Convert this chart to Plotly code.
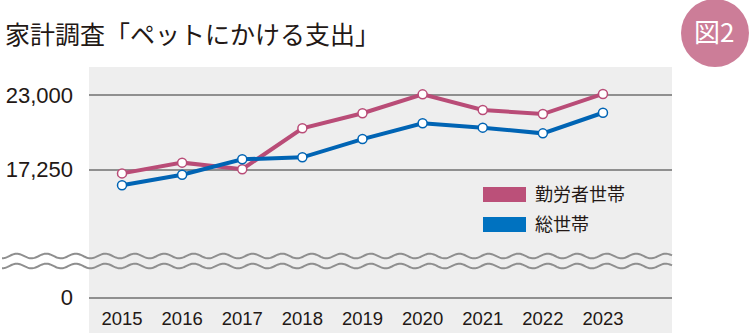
import numpy as np
import plotly.graph_objects as go

# ---- data ----
years = [2015, 2016, 2017, 2018, 2019, 2020, 2021, 2022, 2023]
worker_households = [16950, 17780, 17270, 20430, 21590, 23050, 21840, 21530, 23080]
all_households = [16030, 16850, 18040, 18190, 19600, 20820, 20480, 20040, 21630]
series_names = ["勤労者世帯", "総世帯"]
ytick_vals = [7410, 17250, 23000]
ytick_text = ["0", "17,250", "23,000"]
title_text = "家計調査「ペットにかける支出」"
badge_text = "図2"

# ---- layout geometry ----
W, H = 750, 335
L, R, T, B = 89, 78, 67, 38
PW, PH = W - L - R, H - T - B

PINK = "#b94c77"
BLUE = "#0064b4"
PINK_SW = "#bb5079"
BLUE_SW = "#0072c0"
GRID = "#8f8f8f"
BG = "#eeeeee"
TXT = "#231815"


def px(x):
    return (x - L) / PW


def py(y):
    return (H - B - y) / PH


fig = go.Figure()
for vals, col, name in [(worker_households, PINK, series_names[0]),
                        (all_households, BLUE, series_names[1])]:
    fig.add_trace(go.Scatter(
        x=years, y=vals, mode="lines+markers", name=name,
        line=dict(color=col, width=4),
        marker=dict(size=9, color="white", line=dict(color=col, width=1.5)),
        showlegend=False, cliponaxis=False))

shapes = []
# gray background continuation below the axis
shapes.append(dict(type="rect", xref="paper", yref="paper", x0=0, x1=1,
                   y0=py(333), y1=0, fillcolor=BG, line=dict(width=0), layer="below"))

# wavy break lines
xs = np.linspace(2, 672, 600)
for yc in (256, 266):
    ys = yc + 2.3 * np.sin(2 * np.pi * (xs - 2) / 29.5 + np.pi / 2)
    path = "M " + " L ".join(f"{px(a):.5f},{py(b):.5f}" for a, b in zip(xs, ys))
    shapes.append(dict(type="path", xref="paper", yref="paper", path=path,
                       line=dict(color=GRID, width=2)))

# legend swatches
shapes.append(dict(type="rect", xref="paper", yref="paper", x0=px(483), x1=px(526),
                   y0=py(202), y1=py(187), fillcolor=PINK_SW, line=dict(width=0)))
shapes.append(dict(type="rect", xref="paper", yref="paper", x0=px(483), x1=px(526),
                   y0=py(232), y1=py(217), fillcolor=BLUE_SW, line=dict(width=0)))

# badge circle
shapes.append(dict(type="circle", xref="paper", yref="paper", x0=px(681), x1=px(749),
                   y0=py(67), y1=py(-1), fillcolor="#cc7d98", line=dict(width=0)))

annotations = [
    dict(text=title_text, xref="paper", yref="paper", x=px(3), y=py(33),
         xanchor="left", yanchor="middle", showarrow=False,
         font=dict(family="Noto Sans CJK JP", size=25, color=TXT)),
    dict(text=badge_text, xref="paper", yref="paper", x=px(714), y=py(30),
         xanchor="center", yanchor="middle", showarrow=False,
         font=dict(family="Noto Sans CJK JP", size=26, color="white")),
    dict(text=series_names[0], xref="paper", yref="paper", x=px(533), y=py(193),
         xanchor="left", yanchor="middle", showarrow=False,
         font=dict(family="Noto Sans CJK JP", size=18, color=TXT)),
    dict(text=series_names[1], xref="paper", yref="paper", x=px(533), y=py(223),
         xanchor="left", yanchor="middle", showarrow=False,
         font=dict(family="Noto Sans CJK JP", size=18, color=TXT)),
]

fig.update_layout(
    width=W, height=H, autosize=False,
    margin=dict(l=L, r=R, t=T, b=B, pad=0, autoexpand=False),
    paper_bgcolor="white", plot_bgcolor=BG,
    shapes=shapes, annotations=annotations,
    showlegend=False,
    xaxis=dict(range=[2014.451, 2024.148], tickvals=years, automargin=False,
               ticktext=[str(y) for y in years], showgrid=False, zeroline=False,
               showline=True, linecolor=GRID, linewidth=2,
               ticks="outside", ticklen=4, tickcolor="rgba(0,0,0,0)",
               tickfont=dict(family="Liberation Sans", size=18.5, color=TXT),
               fixedrange=True),
    yaxis=dict(range=[7410, 25161], tickvals=ytick_vals, ticktext=ytick_text,
               automargin=False,
               showgrid=True, gridcolor=GRID, gridwidth=2, zeroline=False,
               showline=False, ticks="", ticklabelstandoff=15,
               tickfont=dict(family="Liberation Sans", size=22, color=TXT),
               fixedrange=True),
)

fig.write_html("out.html")
